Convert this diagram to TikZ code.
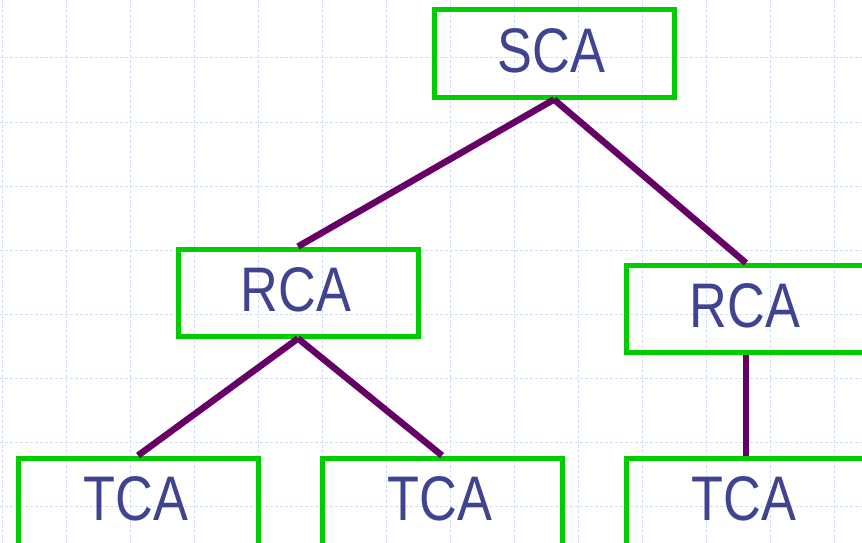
\documentclass[tikz,border=0pt]{standalone}
\usepackage{fontspec}
\setmainfont{Liberation Sans}
\newfontfamily\boxfont[FakeStretch=0.83]{Liberation Sans}
\definecolor{gridblue}{HTML}{D0DCF8}
\definecolor{boxgreen}{HTML}{00CC00}
\definecolor{linkpurple}{HTML}{660066}
\definecolor{txtblue}{HTML}{404490}
\begin{document}
\begin{tikzpicture}[x=1pt,y=-1pt,
  cabox/.style={draw=boxgreen,line width=5pt,minimum width=240pt,minimum height=87pt,
    inner sep=0pt,text depth=6pt,text=txtblue,font=\boxfont\fontsize{63}{63}\selectfont},
  link/.style={draw=linkpurple,line width=6.5pt}]
\useasboundingbox (0,0) rectangle (862,543);
\fill[white] (0,0) rectangle (862,543);
\foreach \x in {2,66,...,900} \draw[gridblue,line width=1pt,dash pattern=on 3pt off 2pt] (\x,0) -- (\x,543);
\foreach \y in {-6,58,...,560} \draw[gridblue,line width=1pt,dash pattern=on 3pt off 2pt] (0,\y) -- (862,\y);
\node[cabox] (sca) at (554,53.5) {SCA\kern5pt};
\node[cabox] (rcal) at (298,292.5) {RCA\kern4pt};
\node[cabox] (rcar) at (746,309) {RCA\kern2pt};
\node[cabox] (tcal) at (138,501.5) {TCA\kern4pt};
\node[cabox] (tcam) at (442,501.5) {TCA\kern4pt};
\node[cabox] (tcar) at (746,501.5) {TCA\kern4pt};
\draw[link] (sca.south) -- (rcal.north);
\draw[link] (sca.south) -- (rcar.north);
\draw[link] (rcal.south) -- (tcal.north);
\draw[link] (rcal.south) -- (tcam.north);
\draw[link] (rcar.south) -- (tcar.north);
\end{tikzpicture}
\end{document}
